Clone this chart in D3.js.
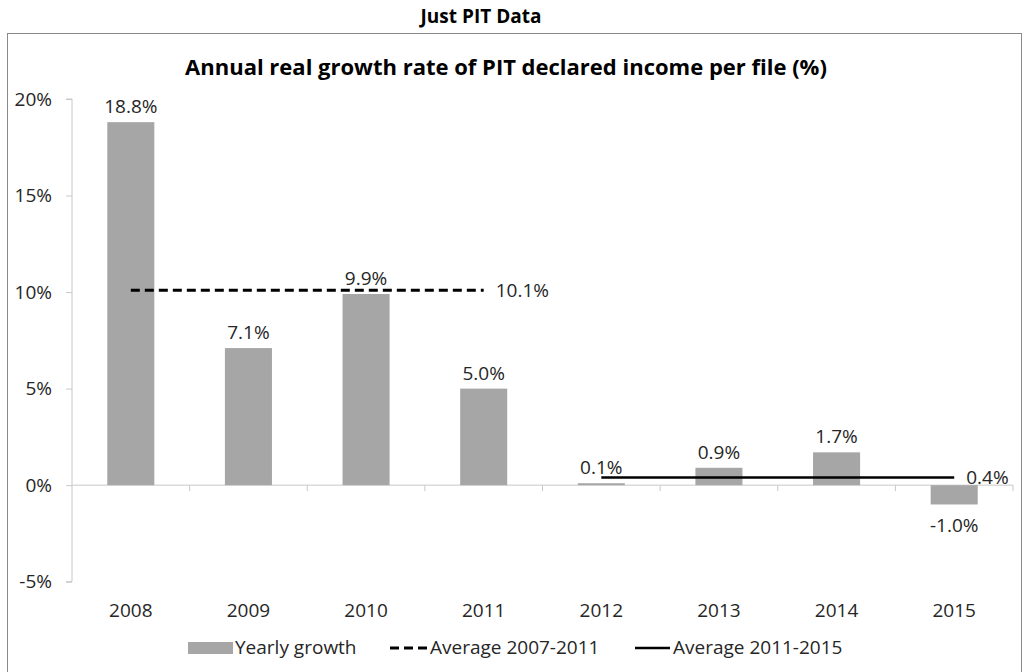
<!DOCTYPE html>
<html>
<head>
<meta charset="utf-8">
<script src="https://cdn.jsdelivr.net/npm/d3@7/dist/d3.min.js"></script>
<style>
  html, body { margin: 0; padding: 0; background: #fff; }
  svg { display: block; font-family: "Open Sans", sans-serif; }
</style>
</head>
<body>
<svg id="chart" width="1027" height="672"></svg>
<script>
// Yearly real growth of PIT declared income per file (%)
const years = ["2008", "2009", "2010", "2011", "2012", "2013", "2014", "2015"];
const growth = [18.8, 7.1, 9.9, 5.0, 0.1, 0.9, 1.7, -1.0];

// Period averages, drawn as horizontal lines across the years they span
const avgEarly = { label: "Average 2007-2011", from: "2008", to: "2011", value: 10.1 };
const avgLate = { label: "Average 2011-2015", from: "2012", to: "2015", value: 0.4 };

const yTicks = [-5, 0, 5, 10, 15, 20];

const svg = d3.select("#chart");
const textColor = "#262626";
const axisColor = "#c8c8c8";
const barColor = "#a6a6a6";
const fs = 19;

// Outer caption and frame
svg.append("text")
  .attr("x", 481).attr("y", 23)
  .attr("text-anchor", "middle")
  .attr("font-weight", "bold")
  .attr("font-size", 19)
  .attr("fill", "#000")
  .text("Just PIT Data");

svg.append("rect")
  .attr("x", 7.5).attr("y", 33.5)
  .attr("width", 1014).attr("height", 650)
  .attr("fill", "none")
  .attr("stroke", "#8a8a8a")
  .attr("stroke-width", 1);

svg.append("text")
  .attr("x", 506).attr("y", 75)
  .attr("text-anchor", "middle")
  .attr("font-weight", "bold")
  .attr("font-size", 22)
  .attr("fill", "#000")
  .text("Annual real growth rate of PIT declared income per file (%)");

// Scales
const x = d3.scaleBand().domain(years).range([72, 1013]).paddingInner(0.6).paddingOuter(0.3);
const y = d3.scaleLinear().domain([-5, 20]).range([581.7, 99]);
const fmt = v => v.toFixed(1) + "%";
const cx = d => x(d) + x.bandwidth() / 2;

// Y axis
const yAxis = svg.append("g")
  .attr("transform", "translate(72,0)")
  .call(d3.axisLeft(y).tickValues(yTicks).tickSize(6).tickPadding(14).tickFormat(d => d + "%"));
yAxis.selectAll("line, path").attr("stroke", axisColor);
yAxis.select(".domain").attr("d", `M-6,${y(-5)}H0V${y(20)}H-6`);
yAxis.selectAll("text").attr("font-size", fs).attr("fill", textColor)
  .attr("font-family", "Open Sans, sans-serif");

// X axis along zero, ticks at band boundaries
const bounds = years.map(d => x(d) - x.step() * x.paddingInner() / 2).slice(1);
const xAxisG = svg.append("g").attr("transform", `translate(0,${y(0)})`);
xAxisG.append("line")
  .attr("x1", 72).attr("x2", 1013).attr("y1", 0).attr("y2", 0)
  .attr("stroke", axisColor);
xAxisG.selectAll("line.tick").data(bounds.concat([1013])).enter().append("line")
  .attr("class", "tick")
  .attr("x1", d => d).attr("x2", d => d)
  .attr("y1", 0).attr("y2", 6)
  .attr("stroke", axisColor);

svg.append("g").selectAll("text").data(years).enter().append("text")
  .attr("x", d => cx(d)).attr("y", 617)
  .attr("text-anchor", "middle")
  .attr("font-size", fs).attr("fill", textColor)
  .text(d => d);

// Bars
svg.append("g").selectAll("rect").data(years).enter().append("rect")
  .attr("x", d => x(d))
  .attr("width", x.bandwidth())
  .attr("y", (d, i) => y(Math.max(0, growth[i])))
  .attr("height", (d, i) => Math.abs(y(growth[i]) - y(0)))
  .attr("fill", barColor);

// Bar value labels
svg.append("g").selectAll("text").data(years).enter().append("text")
  .attr("x", d => cx(d))
  .attr("y", (d, i) => growth[i] >= 0 ? y(growth[i]) - 9 : y(growth[i]) + 28)
  .attr("text-anchor", "middle")
  .attr("font-size", fs).attr("fill", textColor)
  .text((d, i) => fmt(growth[i]));

// Average lines
function drawAverage(avg, dash, width) {
  svg.append("line")
    .attr("x1", cx(avg.from)).attr("x2", cx(avg.to))
    .attr("y1", y(avg.value)).attr("y2", y(avg.value))
    .attr("stroke", "#000")
    .attr("stroke-width", width)
    .attr("stroke-dasharray", dash);
  svg.append("text")
    .attr("x", cx(avg.to) + 12)
    .attr("y", y(avg.value) + 7)
    .attr("font-size", fs).attr("fill", textColor)
    .text(fmt(avg.value));
}
drawAverage(avgEarly, "9,5", 3);
drawAverage(avgLate, null, 2.5);

// Legend
const legend = svg.append("g");
const ly = 648;
legend.append("rect").attr("x", 188).attr("y", ly - 6).attr("width", 45).attr("height", 12).attr("fill", barColor);
legend.append("text").attr("x", 235).attr("y", ly + 6).attr("font-size", fs).attr("fill", textColor).text("Yearly growth");
legend.append("line").attr("x1", 390).attr("x2", 428).attr("y1", ly).attr("y2", ly)
  .attr("stroke", "#000").attr("stroke-width", 3).attr("stroke-dasharray", "9,5");
legend.append("text").attr("x", 430).attr("y", ly + 6).attr("font-size", fs).attr("fill", textColor).text(avgEarly.label);
legend.append("line").attr("x1", 635).attr("x2", 670).attr("y1", ly).attr("y2", ly)
  .attr("stroke", "#000").attr("stroke-width", 2.5);
legend.append("text").attr("x", 673).attr("y", ly + 6).attr("font-size", fs).attr("fill", textColor).text(avgLate.label);
</script>
</body>
</html>
